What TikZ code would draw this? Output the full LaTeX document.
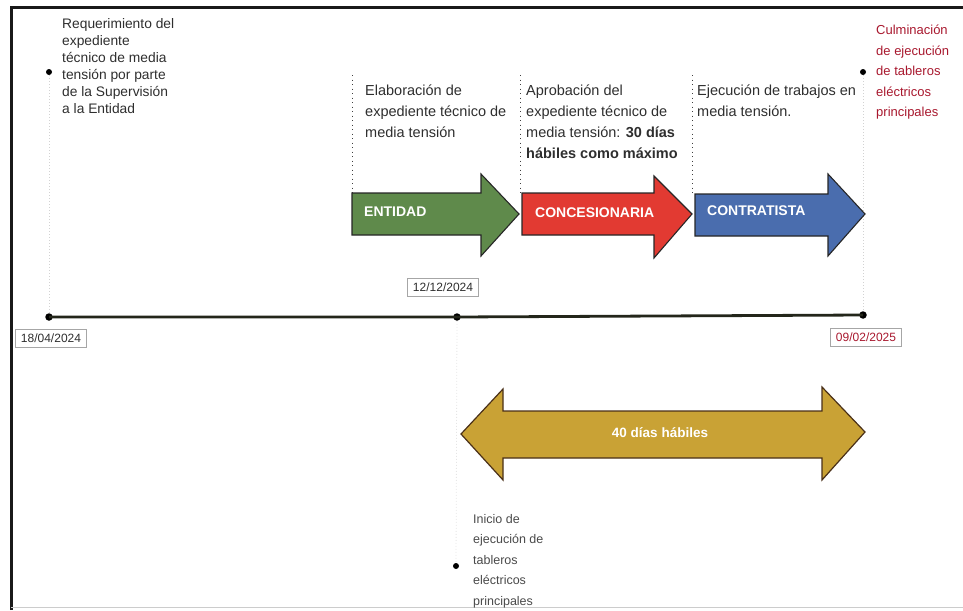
\documentclass[tikz,border=0pt]{standalone}
\usepackage{fontspec}
\setmainfont{Liberation Sans}
\definecolor{txtgray}{HTML}{2E2E2E}
\definecolor{botgray}{HTML}{4A4A4A}
\definecolor{culmred}{HTML}{A8182E}
\definecolor{agreen}{HTML}{5F8A4B}
\definecolor{ared}{HTML}{E23A32}
\definecolor{ablue}{HTML}{4A6DAE}
\definecolor{agold}{HTML}{C9A235}
\definecolor{aedge}{HTML}{262626}
\definecolor{goldedge}{HTML}{4A3018}
\definecolor{tlcolor}{HTML}{23261A}
\begin{document}
\begin{tikzpicture}[x=1pt,y=-1pt,
  dot/.style={circle,fill=black,inner sep=0pt,minimum size=7.5pt},
  smalldot/.style={circle,fill=black,inner sep=0pt,minimum size=6pt},
  faintline/.style={gray!35,line width=0.8pt,dash pattern=on 1pt off 2pt},
  divider/.style={black!75,line width=1pt,dash pattern=on 1pt off 3.5pt},
  timeline/.style={line width=2.8pt,draw=tlcolor},
  phase/.style={draw=aedge,line width=1.1pt,line join=miter},
  phaselabel/.style={anchor=west,inner sep=0pt,text=white,font=\bfseries\fontsize{14}{15}\selectfont},
  bodytext/.style={anchor=north west,inner sep=0pt,align=left,text=txtgray,font=\fontsize{14.5}{21}\selectfont},
  datebox/.style={draw=gray!70,line width=0.6pt,inner xsep=5.5pt,inner ysep=4.5pt,text=txtgray,font=\fontsize{12}{13}\selectfont}
]
\useasboundingbox (0,0) rectangle (963,610);
% frame
\draw[line width=3pt,black!90] (11,610) -- (11,8) -- (963,8);
\draw[line width=0.8pt,gray!40] (11,607) -- (963,607);

% vertical dividers
\coordinate (v1a) at (352,75); \coordinate (v1b) at (352,193);
\coordinate (v2a) at (520,75); \coordinate (v2b) at (520,193);
\coordinate (v3a) at (692,75); \coordinate (v3b) at (692,193);
\draw[divider] (v1a) -- (v1b);
\draw[divider] (v2a) -- (v2b);
\draw[divider] (v3a) -- (v3b);

% dots
\node[smalldot] (l1) at (49,72) {};
\node[smalldot] (r1) at (863,72) {};
\node[dot] (t1) at (49,317) {};
\node[dot] (t2) at (457,317) {};
\node[dot] (t3) at (863,315) {};
\node[smalldot] (b1) at (456,566) {};

\draw[faintline] (l1) -- (t1);
\draw[faintline] (r1) -- (t3);
\draw[faintline,gray!20] (t2) -- (b1);

% timeline
\draw[timeline] (t1.center) -- (t2.center) -- (t3.center);

% date boxes
\node[datebox] (d1) at (51,338) {18/04/2024};
\node[datebox] (d2) at (443,287) {12/12/2024};
\node[datebox,text=culmred] (d3) at (866,337) {09/02/2025};

% texts
\node[anchor=north west,inner sep=0pt,align=left,text=txtgray,font=\fontsize{13.8}{17}\selectfont] (tl) at (62,18)
  {Requerimiento del\\expediente\\técnico de media\\tensión por parte\\de la Supervisión\\a la Entidad};
\node[bodytext] (e1) at (365,85) {Elaboración de\\expediente técnico de\\media tensión};
\node[bodytext] (e2) at (526,85) {Aprobación del\\expediente técnico de\\media tensión: \textbf{30 días}\\\textbf{hábiles como máximo}};
\node[bodytext] (e3) at (697,85) {Ejecución de trabajos en\\media tensión.};
\node[anchor=north west,inner sep=0pt,align=left,text=culmred,font=\fontsize{13}{20.5}\selectfont] (cr) at (876,25)
  {Culminación\\de ejecución\\de tableros\\eléctricos\\principales};
\node[anchor=north west,inner sep=0pt,align=left,text=botgray,font=\fontsize{12.5}{20.5}\selectfont] (bt) at (473,514)
  {Inicio de\\ejecución de\\tableros\\eléctricos\\principales};

% phase arrows
\draw[phase,fill=agreen] (352,193) -- (481,193) -- (481,174) -- (519,214) -- (481,256) -- (481,235) -- (352,235) -- cycle;
\draw[phase,fill=ared] (522,193) -- (654,193) -- (654,176) -- (692,214) -- (654,258) -- (654,235) -- (522,235) -- cycle;
\draw[phase,fill=ablue] (695,194) -- (828,194) -- (828,174) -- (865,214) -- (828,256) -- (828,236) -- (695,236) -- cycle;
\node[phaselabel] (p1) at (364,212) {ENTIDAD};
\node[phaselabel] (p2) at (535,213) {CONCESIONARIA};
\node[phaselabel] (p3) at (707,211) {CONTRATISTA};

% double arrow
\draw[draw=goldedge,line width=1.2pt,fill=agold,line join=miter]
  (461,434) -- (503,389) -- (503,411) -- (822,411) -- (822,387) -- (865,432)
  -- (822,480) -- (822,458) -- (503,458) -- (503,480) -- cycle;
\node[inner sep=0pt,text=white,font=\bfseries\fontsize{13.5}{15}\selectfont] (dur) at (660,433) {40 días hábiles};
\end{tikzpicture}
\end{document}
